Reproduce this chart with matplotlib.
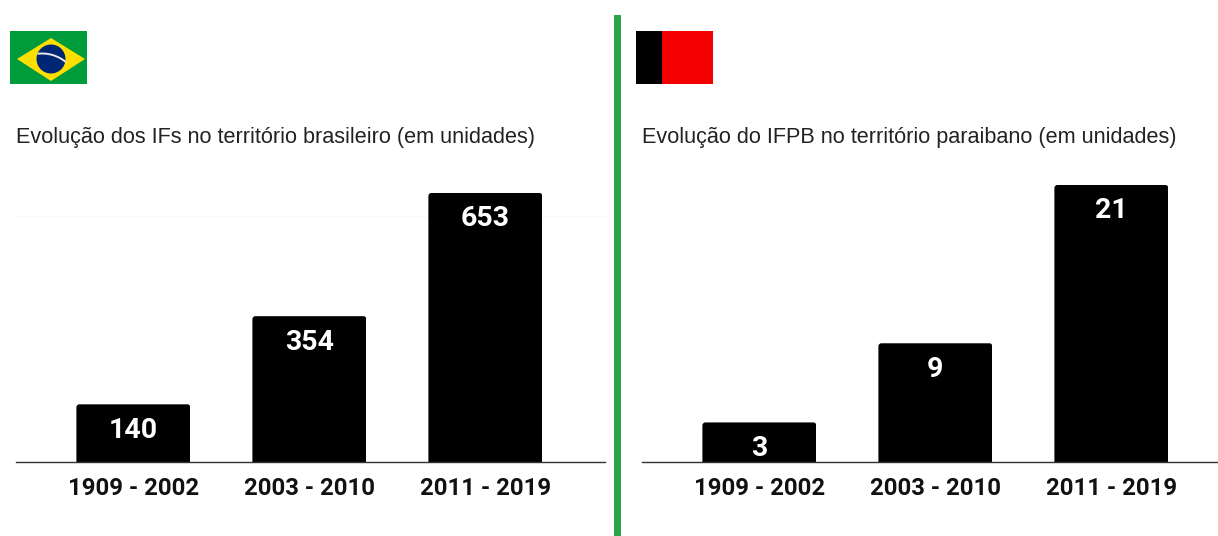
import matplotlib
matplotlib.use('Agg')
import matplotlib.pyplot as plt
from matplotlib.patches import FancyBboxPatch, Rectangle, Polygon, Circle, Arc
from matplotlib.transforms import IdentityTransform, ScaledTranslation

W, H = 1218, 536

periods = ['1909 - 2002', '2003 - 2010', '2011 - 2019']
brasil_values = [140, 354, 653]
paraiba_values = [3, 9, 21]

brasil_title = 'Evolução dos IFs no território brasileiro (em unidades)'
paraiba_title = 'Evolução do IFPB no território paraibano (em unidades)'


def draw_panel(fig, left, right, values, title, px_per_unit, grid=None):
    bottom = 462
    top = 160
    ax = fig.add_axes([left / W, (H - bottom) / H, (right - left) / W, (bottom - top) / H])
    ax.patch.set_alpha(0)

    xs = range(len(values))
    # one band is 176 px wide, bars 114 px
    band = 176
    ax.set_xlim(-(117.4) / band, (right - left - 117.4) / band)
    ax.set_ylim(0, (bottom - top) / px_per_unit)

    if grid is not None:
        ax.axhline(grid, color='#f9f9f9', lw=1, zorder=0)

    bars = ax.bar(xs, values, width=114 / band, color='black', zorder=2)
    fig.canvas.draw()
    for bar in bars:
        # round the top corners
        box = bar.get_window_extent()
        clip = FancyBboxPatch((box.x0, box.y0 - 10), box.width, box.height + 10,
                              boxstyle='round,pad=0,rounding_size=3',
                              transform=IdentityTransform())
        bar.set_clip_path(clip)

    for x, v in zip(xs, values):
        # label sits 23 px under the bar top
        ax.annotate(str(v), (x, v), xytext=(0, -23 * 0.72), textcoords='offset points',
                    ha='center', va='center_baseline', color='white',
                    fontsize=20.5, fontweight='bold', family='Roboto', zorder=3)

    ax.set_xticks(list(xs))
    ax.set_xticklabels(periods, fontsize=17.2, fontweight='bold', family='Roboto', color='#111111')
    ax.tick_params(axis='x', length=0, pad=10.5)
    # tick text sits 1 px right of the bar centre
    nudge = ScaledTranslation(1 / fig.dpi, 0, IdentityTransform())
    for lab in ax.get_xticklabels():
        lab.set_transform(lab.get_transform() + nudge)
    ax.set_yticks([])
    for s in ['top', 'left', 'right']:
        ax.spines[s].set_visible(False)
    ax.spines['bottom'].set_color('#333333')
    ax.spines['bottom'].set_linewidth(1)

    fig.text((left - 0.5) / W, (H - 137) / H, title, fontsize=15.55, family='Liberation Sans',
             color='#222222', va='center', ha='left')


fig = plt.figure(figsize=(W / 100, H / 100), dpi=100)

draw_panel(fig, 16, 605, brasil_values, brasil_title, 269 / 653, grid=597)
draw_panel(fig, 642, 1218, paraiba_values, paraiba_title, 277 / 21)

# flags and divider in pixel coordinates
deco = fig.add_axes([0, 0, 1, 1], zorder=5)
deco.set_xlim(0, W)
deco.set_ylim(H, 0)
deco.axis('off')

deco.add_patch(Rectangle((613.8, 15), 7.6, 521, color='#2ea44a', lw=0))

# Brasil
deco.add_patch(Rectangle((10, 31), 77, 53, color='#009c3b', lw=0))
deco.add_patch(Polygon([(17, 59), (51, 38), (85, 59), (51, 81)], color='#ffdf00', lw=0))
deco.add_patch(Circle((51, 59), 14.5, color='#002776', lw=0))
deco.add_patch(Arc((42, 91), 75, 75, theta1=263, theta2=310, color='#e8e8e8', lw=1.4))

# Paraiba
deco.add_patch(Rectangle((636, 31), 26, 53, color='black', lw=0))
deco.add_patch(Rectangle((662, 31), 51, 53, color='#f40000', lw=0))

fig.savefig('out.png', dpi=100)
